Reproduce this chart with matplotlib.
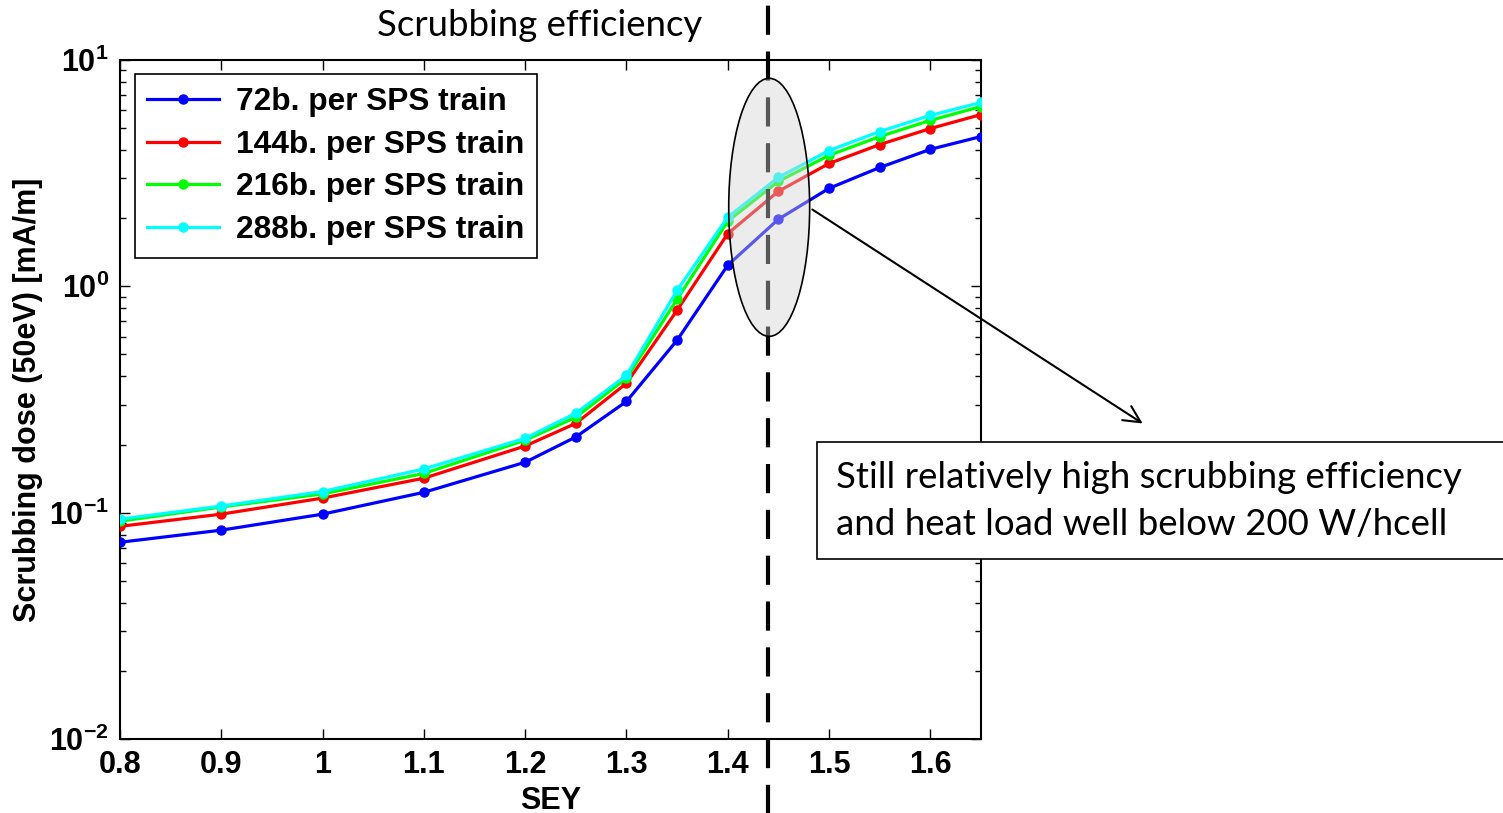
import matplotlib
matplotlib.use("Agg")
import matplotlib.pyplot as plt
from matplotlib.patches import Ellipse, Rectangle
from matplotlib.ticker import FixedLocator, FixedFormatter, LogLocator, NullFormatter

# данные
sey = [0.8, 0.9, 1.0, 1.1, 1.2, 1.25, 1.3, 1.35, 1.4, 1.45, 1.5, 1.55, 1.6, 1.65]
dose_72 = [0.074, 0.0837, 0.0985, 0.123, 0.167, 0.216, 0.31, 0.578, 1.24, 1.98, 2.71, 3.35, 4.03, 4.59]
dose_144 = [0.087, 0.0985, 0.116, 0.142, 0.197, 0.248, 0.373, 0.784, 1.71, 2.63, 3.49, 4.23, 4.98, 5.74]
dose_216 = [0.0917, 0.106, 0.121, 0.149, 0.209, 0.264, 0.393, 0.877, 1.94, 2.91, 3.79, 4.59, 5.41, 6.23]
dose_288 = [0.0936, 0.107, 0.124, 0.156, 0.213, 0.275, 0.404, 0.96, 2.02, 3.03, 3.98, 4.83, 5.69, 6.49]
labels = ['72b. per SPS train', '144b. per SPS train', '216b. per SPS train', '288b. per SPS train']
colors = ['#0000ff', '#ff0000', '#00ff00', '#00ffff']

x_ticks = [0.8, 0.9, 1.0, 1.1, 1.2, 1.3, 1.4, 1.5, 1.6]
x_tick_labels = ['0.8', '0.9', '1', '1.1', '1.2', '1.3', '1.4', '1.5', '1.6']
y_ticks = [0.01, 0.1, 1, 10]
y_tick_labels = [r'$\mathbf{10^{-2}}$', r'$\mathbf{10^{-1}}$', r'$\mathbf{10^{0}}$', r'$\mathbf{10^{1}}$']
sey_cut = 1.44

plt.rcParams['font.family'] = ['Liberation Sans', 'DejaVu Sans']
plt.rcParams['font.weight'] = 'bold'
plt.rcParams['mathtext.fontset'] = 'custom'
plt.rcParams['mathtext.rm'] = 'Liberation Sans:bold'
plt.rcParams['mathtext.it'] = 'Liberation Sans:bold'
plt.rcParams['mathtext.bf'] = 'Liberation Sans:bold'

fig = plt.figure(figsize=(15.03, 8.13), dpi=100)
ax = fig.add_axes([120 / 1503, 74 / 813, 861 / 1503, 679 / 813])

for y, lab, c in zip([dose_72, dose_144, dose_216, dose_288], labels, colors):
    ax.plot(sey, y, '-o', color=c, lw=2.3, ms=6.5, label=lab, zorder=3)

ax.set_yscale('log')
ax.set_xlim(0.8, 1.65)
ax.set_ylim(0.01, 10)
ax.xaxis.set_major_locator(FixedLocator(x_ticks))
ax.xaxis.set_major_formatter(FixedFormatter(x_tick_labels))
ax.yaxis.set_major_locator(FixedLocator(y_ticks))
ax.yaxis.set_major_formatter(FixedFormatter(y_tick_labels))
ax.yaxis.set_minor_locator(LogLocator(base=10, subs=range(2, 10)))
ax.yaxis.set_minor_formatter(NullFormatter())
ax.tick_params(which='both', direction='in', top=True, right=True, labelsize=22, width=1)
ax.tick_params(which='major', length=7, pad=8)
ax.tick_params(which='minor', length=4)
for s in ax.spines.values():
    s.set_linewidth(1.5)

ax.set_xlabel('SEY', fontsize=22, fontweight='bold', labelpad=4)
ax.set_ylabel('Scrubbing dose (50eV) [mA/m]', fontsize=22, fontweight='bold', labelpad=4)

leg = ax.legend(loc='upper left', bbox_to_anchor=(0.017, 0.979), borderaxespad=0,
                fontsize=22.8, fancybox=False, edgecolor='black', framealpha=1,
                handlelength=2.25, labelspacing=0.4, borderpad=0.4, handletextpad=0.55)
leg.get_frame().set_linewidth(1.2)
for t in leg.get_texts():
    t.set_fontweight('bold')

# вертикальная штриховая линия
ax.axvline(sey_cut, ymin=-0.11, ymax=1.09, color='black', lw=3, dashes=(7, 4), clip_on=False, zorder=4)

# эллипс поверх линий
ell = Ellipse((0.754, 0.783), 0.094, 0.38, transform=ax.transAxes,
              facecolor=(0.83, 0.83, 0.83, 0.42), edgecolor='black', lw=1.2, clip_on=False, zorder=5)
ax.add_patch(ell)

# стрелка
ax.annotate('', xy=(1145, 813 - 425), xycoords='figure pixels',
            xytext=(810, 813 - 208), textcoords='figure pixels',
            arrowprops=dict(arrowstyle='->', lw=1.5, color='black', mutation_scale=30))

# текстовое поле
box = Rectangle((817 / 1503, (813 - 559) / 813), 700 / 1503, 117 / 813, transform=fig.transFigure,
                facecolor='white', edgecolor='black', lw=1.2, zorder=6)
fig.patches.append(box)
fig.text(836 / 1503, (813 - 501) / 813,
         'Still relatively high scrubbing efficiency\nand heat load well below 200 W/hcell',
         fontsize=26.4, fontweight='normal', family=['Lato', 'DejaVu Sans'],
         ha='left', va='center', linespacing=1.5, zorder=7)

fig.text(540 / 1503, (813 - 25) / 813, 'Scrubbing efficiency', fontsize=26.3, fontweight='normal',
         family=['Lato', 'DejaVu Sans'], ha='center', va='center')

fig.savefig('out.png', dpi=100)
